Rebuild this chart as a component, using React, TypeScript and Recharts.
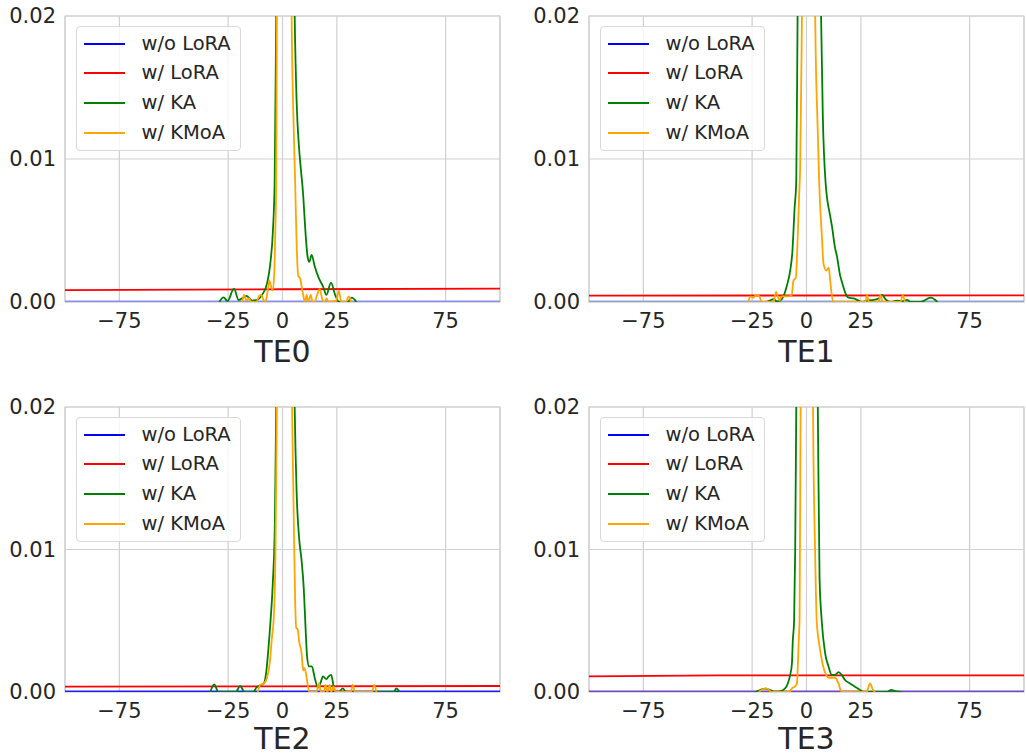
import React from 'react';
import { LineChart, Line, XAxis, YAxis, CartesianGrid, Legend, ReferenceArea } from 'recharts';

type Pt = [number, number];

const X_DOMAIN: [number, number] = [-100, 100];
const Y_DOMAIN: [number, number] = [0, 0.02];
const X_TICKS = [-75, -25, 0, 25, 75];
const Y_TICKS = [0, 0.01, 0.02];
const SERIES_NAMES = ['w/o LoRA', 'w/ LoRA', 'w/ KA', 'w/ KMoA'];
const SERIES_COLORS = ['#0000ff', '#ff0000', '#008000', '#ffa500'];
const PANEL_TITLES = ['TE0', 'TE1', 'TE2', 'TE3'];

// w/o LoRA (flat at zero in every panel)
const NO_LORA: Pt[] = [[-100, 0], [100, 0]];

// w/ LoRA
const TE0_LORA: Pt[] = [[-100, 0.00083], [0, 0.00089], [100, 0.00093]];
const TE1_LORA: Pt[] = [[-100, 0.00045], [100, 0.00046]];
const TE2_LORA: Pt[] = [[-100, 0.00038], [100, 0.00042]];
const TE3_LORA: Pt[] = [[-100, 0.0011], [-40, 0.00116], [100, 0.00117]];

// w/ KA
const TE0_KA: Pt[] = [
  [-29.1, 0], [-27.1, 0.00033], [-25.3, 0.00007], [-22.3, 0.00093], [-20.2, 0.00014], [-16.5, 0.00042],
  [-13.9, 0.0001], [-11.7, 0.00014], [-9.4, 0.0005], [-7.1, 0.0013], [-5.6, 0.0027], [-4.4, 0.005],
  [-3.6, 0.0085], [-2.9, 0.02], [-1.5, 0.05], [1.5, 0.06], [4.5, 0.035], [5.6, 0.02], [6.5, 0.014],
  [7.5, 0.011], [8.5, 0.0092], [9.5, 0.0075], [10.3, 0.0055], [11.5, 0.0032], [12.3, 0.0028],
  [13.4, 0.0033], [14.8, 0.0025], [16.6, 0.0017], [18.6, 0.0011], [20.2, 0.0005], [22.3, 0.00135],
  [24.2, 0.0005], [26, 0], [30, 0], [31.8, 0.0003], [34, 0],
];
const TE1_KA: Pt[] = [
  [-18.3, 0], [-16.8, 0.0001], [-15.2, 0.0002], [-13.7, 0.00005], [-12.2, 0.0001], [-10.6, 0.0004],
  [-9.1, 0.0011], [-7.5, 0.0022], [-6.5, 0.0035], [-5.5, 0.0065], [-4.7, 0.0085], [-4.1, 0.02],
  [-2, 0.05], [2, 0.07], [5.5, 0.04], [6.7, 0.02], [7.5, 0.013], [8.8, 0.0083], [10.9, 0.006],
  [11.7, 0.0053], [13.1, 0.0038], [14, 0.0032], [15.4, 0.0019], [16.3, 0.0014], [17.7, 0.0007],
  [18.6, 0.0004], [19.4, 0.0003], [21.7, 0.00025], [24, 0.0001], [25.5, 0], [27.8, 0.0001],
  [30.9, 0.00015], [33.2, 0.00025], [34.8, 0.0005], [36.3, 0.0002], [38.6, 0], [41.7, 0.0001],
  [44, 0.00005], [46.3, 0.00015], [47.8, 0], [52.5, 0], [57.1, 0.0003], [60.2, 0],
];
const TE2_KA: Pt[] = [
  [-33.2, 0], [-31.4, 0.00054], [-29.5, 0], [-21.5, 0], [-19.5, 0.00042], [-17.4, 0], [-13.5, 0],
  [-12, 0.0003], [-10.2, 0.00047], [-8.6, 0.0006], [-7.4, 0.0015], [-6.5, 0.003], [-5.5, 0.005],
  [-4.5, 0.0075], [-3.5, 0.012], [-2.9, 0.02], [-1, 0.05], [2, 0.06], [4.5, 0.035], [5.6, 0.02],
  [6.5, 0.014], [7.7, 0.0107], [8.8, 0.0092], [9.8, 0.0072], [10.6, 0.0045], [11.3, 0.0025],
  [12.2, 0.0018], [13.5, 0.0018], [14.8, 0.001], [16.3, 0.0003], [17.6, 0.0007], [18.6, 0.0011],
  [20.2, 0.0009], [21.2, 0.0011], [22.4, 0.0012], [23.5, 0.0004], [24.4, 0], [25.9, 0],
  [27.7, 0.00026], [29.2, 0], [51.2, 0], [52.3, 0.00026], [53.8, 0],
];
const TE3_KA: Pt[] = [
  [-23.5, 0], [-21.3, 0.00014], [-19, 0.00023], [-16.7, 0.00014], [-14.4, 0.00002], [-12.1, 0.00005],
  [-9.8, 0.00026], [-8.6, 0.0006], [-7.5, 0.0012], [-6.7, 0.002], [-6.3, 0.0036], [-5.7, 0.005],
  [-5.2, 0.01], [-4.7, 0.02], [-2, 0.06], [2, 0.06], [4.5, 0.03], [5.2, 0.02], [6, 0.008], [7, 0.005],
  [8.6, 0.0027], [10.1, 0.0018], [11.6, 0.0012], [13.1, 0.0012], [14.7, 0.0014], [16.2, 0.0012],
  [17.7, 0.00084], [20, 0.0006], [22.3, 0.00037], [24.6, 0.00014], [26.1, 0], [36.8, 0],
  [39.1, 0.00014], [40.7, 0.00007], [43.7, 0],
];

// w/ KMoA
const TE0_KMOA: Pt[] = [
  [-18.5, 0], [-17.7, 0.0005], [-16.5, 0.0001], [-15.5, 0.00025], [-14.3, 0], [-11.9, 0],
  [-10.9, 0.0004], [-9.8, 0.0005], [-8.6, 0.0001], [-7.9, 0], [-7, 0.0006], [-6, 0.0015],
  [-5.3, 0.0011], [-4.6, 0.0008], [-3.8, 0.002], [-3.3, 0.005], [-2.9, 0.0085], [-2.6, 0.02],
  [0, 0.07], [3, 0.05], [4.2, 0.02], [5, 0.013], [5.8, 0.0085], [6.5, 0.004], [7.3, 0.0018],
  [8, 0.0017], [8.8, 0.0011], [9.5, 0.0005], [10.3, 0], [11.1, 0.0005], [11.8, 0], [13, 0.0005],
  [13.8, 0], [14.8, 0], [15.9, 0.0005], [17.1, 0.0009], [18.3, 0.0002], [19.4, 0], [20.2, 0.00025],
  [21.2, 0], [24.7, 0.0001], [25.9, 0.0008], [27, 0], [29.2, 0], [30.5, 0.0004], [31.5, 0],
];
const TE1_KMOA: Pt[] = [
  [-26.8, 0], [-25.7, 0.0004], [-24.5, 0.0003], [-23.2, 0.0005], [-21.7, 0.0004], [-20.6, 0],
  [-15.2, 0], [-14, 0.0007], [-13.2, 0.0004], [-12.5, 0.0001], [-11.4, 0.0004], [-9.8, 0.0004],
  [-8.3, 0.0004], [-6.8, 0.0005], [-6, 0.0015], [-4.9, 0.0017], [-4.2, 0.0039], [-3.4, 0.0074],
  [-2.9, 0.0095], [-2.1, 0.02], [0, 0.06], [3, 0.05], [4, 0.02], [5.2, 0.0118], [5.8, 0.0085],
  [7.1, 0.0045], [7.8, 0.0027], [9.1, 0.0022], [10.2, 0.0024], [10.9, 0.0015], [11.7, 0.0004],
  [12.5, 0], [27.1, 0], [27.8, 0.0005], [28.6, 0], [33.2, 0], [34, 0.0005], [35, 0], [43.2, 0],
  [44.3, 0.0005], [45.2, 0],
];
const TE2_KMOA: Pt[] = [
  [-11.4, 0], [-10.2, 0.0005], [-8.6, 0.0006], [-7.1, 0.001], [-5.9, 0.002], [-4.8, 0.0039],
  [-4.1, 0.005], [-3.3, 0.009], [-2.6, 0.02], [0, 0.06], [3, 0.05], [4.4, 0.02], [5, 0.014],
  [5.8, 0.0065], [6.3, 0.0045], [7, 0.0044], [7.6, 0.0036], [8.8, 0.0027], [9.5, 0.0015],
  [10, 0.0017], [10.8, 0.0013], [11.5, 0.0006], [12.3, 0], [15.6, 0], [16.8, 0.0006], [17.6, 0],
  [19, 0], [19.8, 0.0005], [20.6, 0], [21.7, 0.0005], [22.4, 0], [23.5, 0.0004], [24.4, 0],
  [31.4, 0], [32.3, 0.0005], [33.3, 0], [41.2, 0], [42.1, 0.0005], [43.2, 0],
];
const TE3_KMOA: Pt[] = [
  [-22, 0], [-20, 0.00019], [-18.5, 0.00026], [-17, 0.0001], [-15.9, 0], [-7.8, 0],
  [-6.7, 0.00026], [-5.2, 0.0004], [-4.4, 0.0006], [-4, 0.0018], [-3.5, 0.0039], [-3.2, 0.005],
  [-2.7, 0.02], [0, 0.06], [2.5, 0.04], [3, 0.02], [4, 0.0095], [4.7, 0.005], [6, 0.0032],
  [7.5, 0.0019], [9, 0.0012], [10.1, 0.001], [13.1, 0.001], [14.7, 0.0006], [15.7, 0.00014],
  [16.7, 0], [27.7, 0], [28.2, 0.0002], [29.2, 0.0006], [30.4, 0.0002], [31.5, 0],
];

const BASELINE_COLORS = ['#8c8cf0', '#8fa2dc', '#1f1fff', '#7048c4'];

const FONT = '"DejaVu Sans", sans-serif';
const TEXT_COLOR = '#262626';
const GRID_COLOR = '#d0d0d0';

const toRows = (pts: Pt[]) => pts.map(([x, y]) => ({ x, y }));

type PanelProps = {
  title: string;
  lora: Pt[];
  ka: Pt[];
  kmoa: Pt[];
  baseline: string;
  left: number;
  top: number;
  width: number;
  height: number;
  yAxisWidth: number;
  marginTop: number;
  marginRight: number;
  xAxisHeight: number;
  labelOffset: number;
};

const LegendBox = () => (
  <div
    style={{
      width: 165,
      height: 125,
      boxSizing: 'border-box',
      border: '1px solid #d9d9d9',
      borderRadius: 4,
      background: 'rgba(255,255,255,0.8)',
      position: 'relative',
      fontFamily: FONT,
    }}
  >
    {SERIES_NAMES.map((name, i) => (
      <div key={name} style={{ position: 'absolute', left: 0, top: 16.5 + i * 29.7, width: '100%', height: 0 }}>
        <div style={{ position: 'absolute', left: 7, top: -1, width: 41, height: 2, background: SERIES_COLORS[i] }} />
        <div
          style={{
            position: 'absolute',
            left: 65,
            top: -12,
            lineHeight: '24px',
            fontSize: 19.5,
            color: TEXT_COLOR,
            whiteSpace: 'nowrap',
          }}
        >
          {name}
        </div>
      </div>
    ))}
  </div>
);

const Panel = (p: PanelProps) => {
  const xTick = (v: number) => (v < 0 ? '\u2212' + Math.abs(v) : String(v));
  const yTick = (v: number) => v.toFixed(2);
  return (
    <div style={{ position: 'absolute', left: p.left, top: p.top, width: p.width, height: p.height }}>
      <LineChart
        width={p.width}
        height={p.height}
        margin={{ top: p.marginTop, right: p.marginRight, left: 0, bottom: 0 }}
        style={{ fontFamily: FONT }}
      >
        <CartesianGrid stroke={GRID_COLOR} strokeWidth={1.2} />
        <ReferenceArea x1={-100} x2={100} y1={0} y2={0.02} fill="none" stroke={GRID_COLOR} strokeWidth={1.2} />
        <XAxis
          type="number"
          dataKey="x"
          domain={X_DOMAIN}
          ticks={X_TICKS}
          allowDataOverflow
          tickFormatter={xTick}
          tick={{ fontSize: 21, fill: TEXT_COLOR, fontFamily: FONT }}
          tickLine={false}
          axisLine={false}
          tickSize={0}
          tickMargin={11}
          height={p.xAxisHeight}
          interval={0}
          label={{ value: p.title, position: 'insideBottom', offset: p.labelOffset, fontSize: 30, fill: TEXT_COLOR, fontFamily: FONT }}
        />
        <YAxis
          type="number"
          domain={Y_DOMAIN}
          ticks={Y_TICKS}
          allowDataOverflow
          tickFormatter={yTick}
          tick={{ fontSize: 21, fill: TEXT_COLOR, fontFamily: FONT }}
          tickLine={false}
          axisLine={false}
          tickSize={0}
          tickMargin={9}
          width={p.yAxisWidth}
          interval={0}
        />
        <Legend
          layout="vertical"
          align="center"
          verticalAlign="middle"
          wrapperStyle={{ left: p.yAxisWidth + 10.5, top: p.marginTop + 10, width: 165, height: 125 }}
          content={() => <LegendBox />}
        />
        <Line data={toRows(NO_LORA)} dataKey="y" name={SERIES_NAMES[0]} stroke={p.baseline} strokeWidth={3} dot={false} type="linear" isAnimationActive={false} />
        <Line data={toRows(p.lora)} dataKey="y" name={SERIES_NAMES[1]} stroke={SERIES_COLORS[1]} strokeWidth={1.8} dot={false} type="monotone" isAnimationActive={false} />
        <Line data={toRows(p.ka)} dataKey="y" name={SERIES_NAMES[2]} stroke={SERIES_COLORS[2]} strokeWidth={1.8} dot={false} type="monotone" isAnimationActive={false} />
        <Line data={toRows(p.kmoa)} dataKey="y" name={SERIES_NAMES[3]} stroke={SERIES_COLORS[3]} strokeWidth={1.8} dot={false} type="monotone" isAnimationActive={false} />
      </LineChart>
    </div>
  );
};

export default function App() {
  const loras = [TE0_LORA, TE1_LORA, TE2_LORA, TE3_LORA];
  const kas = [TE0_KA, TE1_KA, TE2_KA, TE3_KA];
  const kmoas = [TE0_KMOA, TE1_KMOA, TE2_KMOA, TE3_KMOA];
  const layouts = [
    { left: 0, top: 0, width: 512, height: 377, yAxisWidth: 65, marginTop: 16, marginRight: 12, xAxisHeight: 75, labelOffset: 15 },
    { left: 512, top: 0, width: 514, height: 377, yAxisWidth: 77, marginTop: 16, marginRight: 2, xAxisHeight: 75, labelOffset: 15 },
    { left: 0, top: 390, width: 512, height: 365, yAxisWidth: 65, marginTop: 17, marginRight: 12, xAxisHeight: 63, labelOffset: 6 },
    { left: 512, top: 390, width: 514, height: 365, yAxisWidth: 77, marginTop: 17, marginRight: 2, xAxisHeight: 63, labelOffset: 6 },
  ];
  return (
    <div style={{ position: 'absolute', left: 0, top: 0, width: 1026, height: 755, background: '#ffffff', overflow: 'hidden' }}>
      {PANEL_TITLES.map((t, i) => (
        <Panel key={t} title={t} lora={loras[i]} ka={kas[i]} kmoa={kmoas[i]} baseline={BASELINE_COLORS[i]} {...layouts[i]} />
      ))}
    </div>
  );
}
